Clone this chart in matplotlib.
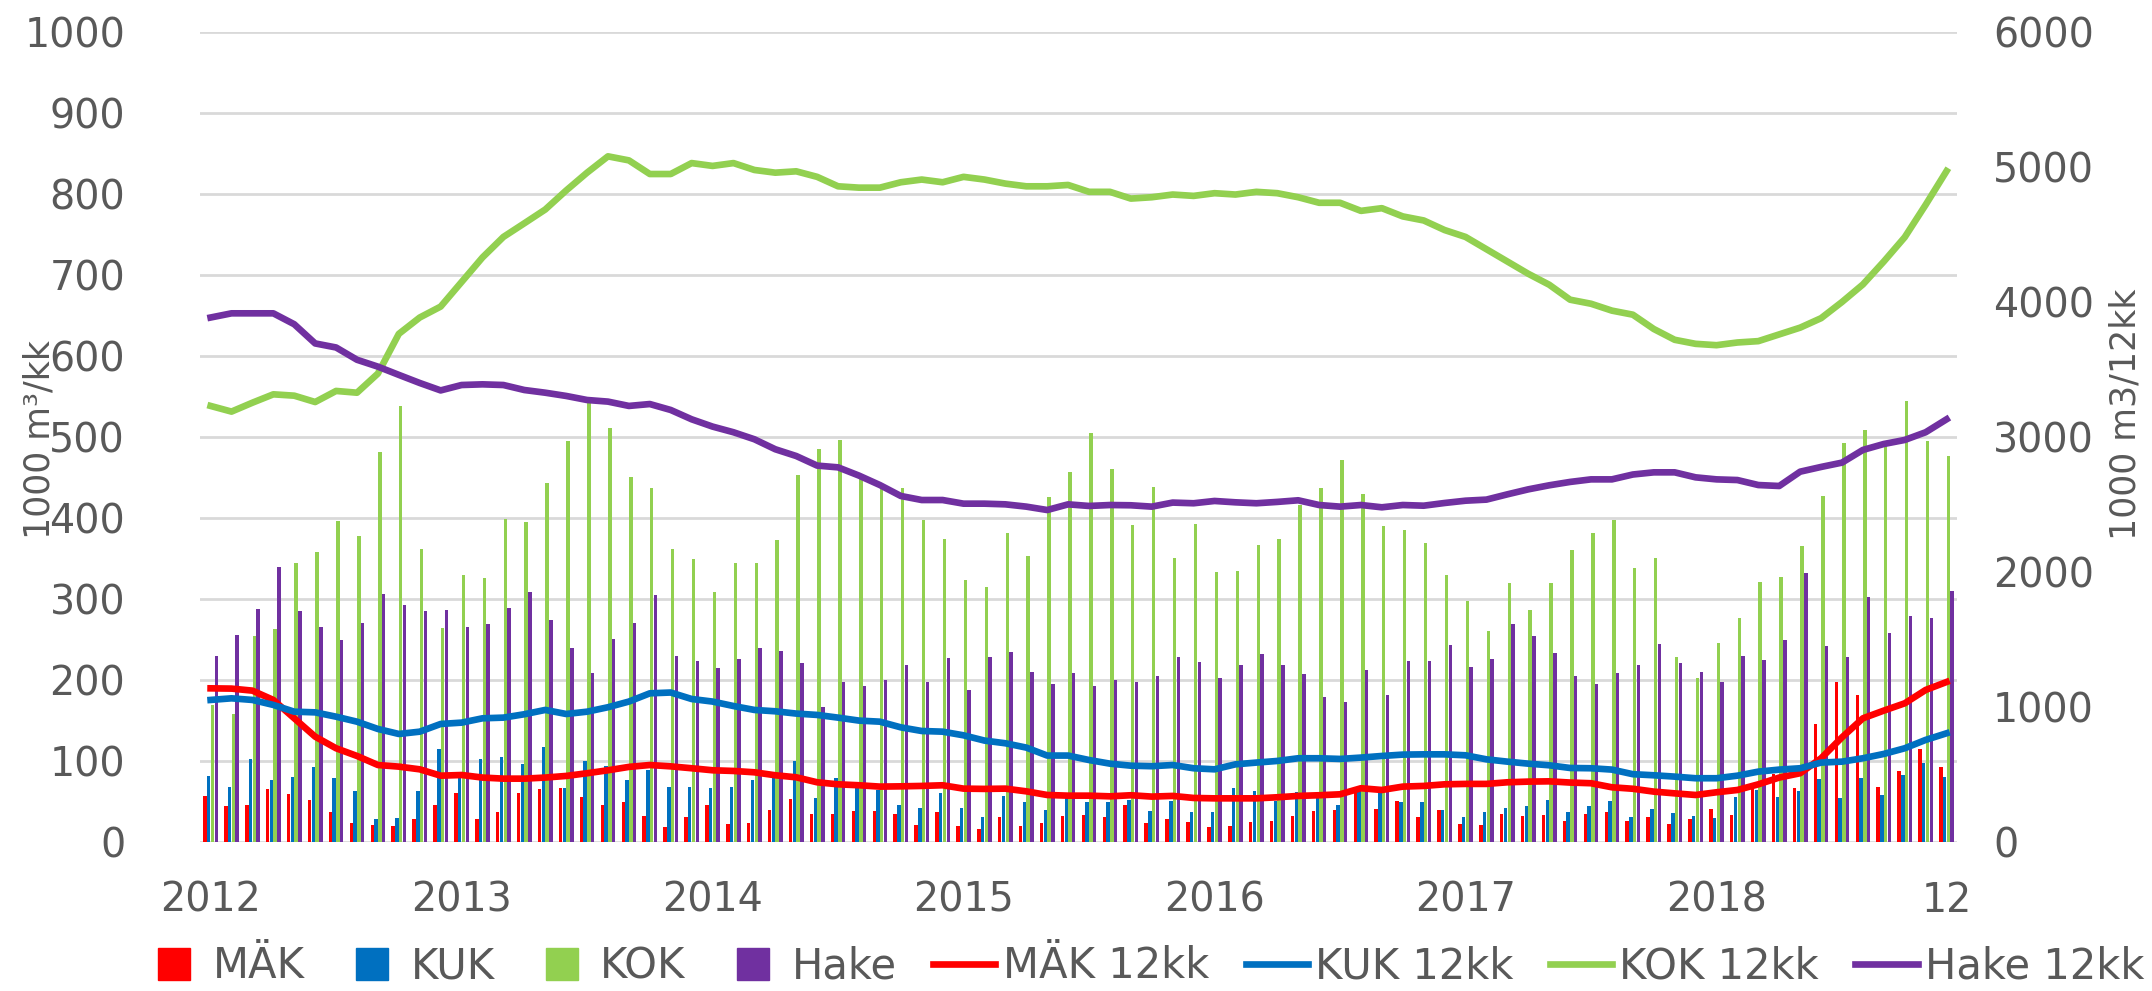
import matplotlib.pyplot as plt
import numpy as np
import pandas as pd
from matplotlib.lines import Line2D
from matplotlib.legend_handler import HandlerLine2D

# kuukaudet 2012-01 ... 2018-12
months = pd.date_range('2012-01', periods=84, freq='MS')
tick_pos = [0, 12, 24, 36, 48, 60, 72, 83]
tick_lab = ['2012', '2013', '2014', '2015', '2016', '2017', '2018', '12']

# kuukausiarvot, 1000 m3/kk (vasen akseli)
mak = [57, 44, 46, 65, 59, 52, 37, 24, 21, 20, 28, 46, 60, 28, 37, 61, 65, 67, 56, 46, 49, 32, 18,
       31, 46, 22, 24, 40, 53, 35, 35, 38, 38, 35, 21, 37, 20, 16, 31, 20, 23, 32, 33, 31, 46, 24,
       28, 25, 18, 20, 25, 26, 32, 38, 40, 68, 41, 51, 31, 40, 22, 21, 35, 32, 33, 26, 35, 37, 26,
       31, 22, 28, 41, 33, 72, 84, 67, 146, 198, 181, 68, 88, 115, 93]
kuk = [82, 68, 102, 76, 80, 93, 79, 63, 28, 30, 63, 115, 79, 102, 105, 96, 117, 66, 100, 94, 76, 89, 68,
       68, 66, 68, 77, 80, 100, 54, 79, 68, 64, 46, 42, 61, 42, 31, 57, 49, 40, 54, 49, 49, 52, 38,
       51, 37, 37, 67, 63, 51, 62, 54, 46, 66, 60, 49, 49, 40, 31, 37, 42, 44, 52, 37, 44, 51, 31,
       41, 36, 32, 29, 55, 64, 55, 63, 78, 54, 79, 58, 83, 97, 80]
kok = [169, 158, 254, 263, 344, 358, 396, 378, 481, 538, 362, 264, 329, 326, 399, 395, 443, 495, 545, 511, 450, 437, 362,
       349, 308, 344, 344, 373, 453, 485, 496, 450, 439, 437, 398, 374, 323, 315, 381, 353, 426, 457, 505, 460, 391, 438,
       351, 393, 333, 335, 367, 374, 416, 437, 472, 430, 390, 385, 369, 329, 297, 260, 320, 286, 320, 360, 381, 398, 338,
       351, 228, 202, 246, 276, 321, 327, 365, 427, 493, 509, 494, 544, 495, 477]
hake = [230, 256, 288, 340, 285, 265, 249, 270, 306, 292, 285, 286, 265, 269, 289, 308, 274, 239, 209, 250, 270, 305, 230,
        223, 215, 226, 239, 236, 221, 167, 198, 193, 200, 218, 197, 227, 188, 228, 235, 210, 195, 209, 193, 200, 198, 205,
        228, 222, 203, 218, 232, 218, 207, 179, 173, 212, 181, 223, 223, 243, 216, 226, 269, 254, 233, 205, 195, 209, 218,
        244, 221, 210, 197, 230, 225, 249, 332, 242, 228, 302, 258, 279, 276, 310]

# 12 kk liukuvat summat, 1000 m3/12kk (oikea akseli)
mak12 = [1138, 1136, 1121, 1052, 916, 780, 694, 637, 570, 558, 538, 491, 496, 477, 469, 469, 477, 489, 509, 531, 556, 570, 560,
         546, 531, 526, 516, 494, 479, 442, 427, 420, 410, 412, 415, 420, 395, 393, 395, 375, 348, 343, 343, 338, 346, 336,
         341, 326, 323, 323, 323, 331, 341, 346, 353, 398, 385, 410, 415, 427, 430, 430, 442, 447, 449, 440, 435, 405, 394,
         373, 360, 348, 368, 385, 427, 477, 509, 620, 775, 916, 973, 1027, 1126, 1185]
kuk12 = [1052, 1064, 1052, 1015, 965, 960, 928, 891, 837, 800, 817, 874, 884, 916, 921, 946, 978, 948, 965, 998, 1040, 1101, 1107,
         1059, 1040, 1007, 978, 968, 951, 941, 921, 899, 891, 849, 822, 817, 790, 751, 731, 699, 640, 640, 607, 580, 565, 561,
         570, 546, 538, 575, 588, 600, 620, 620, 615, 625, 637, 647, 649, 649, 642, 612, 595, 580, 568, 548, 546, 536, 502,
         494, 484, 472, 472, 491, 521, 536, 546, 588, 595, 620, 652, 694, 756, 805]
kok12 = [3230, 3188, 3254, 3316, 3306, 3259, 3341, 3328, 3470, 3764, 3885, 3966, 4148, 4330, 4482, 4583, 4685, 4826, 4958, 5079, 5049, 4948, 4948,
         5029, 5008, 5029, 4978, 4958, 4968, 4927, 4857, 4847, 4847, 4887, 4907, 4887, 4927, 4907, 4877, 4857, 4857, 4867, 4816, 4816, 4766, 4776,
         4796, 4786, 4806, 4796, 4816, 4806, 4776, 4735, 4735, 4675, 4695, 4634, 4604, 4533, 4482, 4391, 4300, 4209, 4128, 4017, 3987, 3936, 3906,
         3800, 3720, 3690, 3680, 3700, 3710, 3760, 3810, 3880, 4000, 4130, 4300, 4480, 4720, 4970]
hake12 = [3885, 3916, 3916, 3916, 3835, 3693, 3663, 3572, 3521, 3460, 3400, 3345, 3385, 3390, 3385, 3348, 3328, 3304, 3274, 3262, 3230, 3244, 3200,
          3131, 3077, 3035, 2983, 2909, 2859, 2788, 2775, 2714, 2644, 2563, 2533, 2533, 2506, 2506, 2501, 2484, 2459, 2501, 2489, 2496, 2494, 2484,
          2514, 2509, 2526, 2516, 2509, 2519, 2531, 2496, 2484, 2496, 2479, 2496, 2491, 2511, 2528, 2536, 2575, 2612, 2642, 2667, 2686, 2686, 2722,
          2738, 2738, 2701, 2686, 2681, 2644, 2637, 2743, 2778, 2810, 2904, 2948, 2978, 3035, 3131]

punainen = '#FF0000'
sininen = '#0070C0'
vihrea = '#92D050'
violetti = '#7030A0'
harmaa = '#595959'


# neliö legendan kahvan oikeaan reunaan, kuten Excelissä
class OikeaNelio(HandlerLine2D):
    def get_xdata(self, legend, xdescent, ydescent, width, height, fontsize):
        xdata, _ = super().get_xdata(legend, xdescent, ydescent, width, height, fontsize)
        return xdata, np.array([-xdescent + 0.74 * width])


fig = plt.figure(figsize=(21.52, 9.91), dpi=100)
ax = fig.add_axes([0.093, 0.1504, 0.8164, 0.8173])
x = np.arange(len(months))

w = 0.165
step = 0.18
ax.bar(x - 1.5 * step, mak, w, color=punainen)
ax.bar(x - 0.5 * step, kuk, w, color=sininen)
ax.bar(x + 0.5 * step, kok, w, color=vihrea)
ax.bar(x + 1.5 * step, hake, w, color=violetti)

ax.set_xlim(-0.5, 83.5)
ax.set_ylim(0, 1000)
ax.set_yticks(range(0, 1001, 100))
ax.set_xticks(tick_pos)
ax.set_xticklabels(tick_lab)
ax.yaxis.grid(True, color='#D9D9D9', linewidth=2)
ax.set_axisbelow(True)
for s in ax.spines.values():
    s.set_visible(False)
ax.tick_params(axis='y', length=0, labelsize=28.5, labelcolor=harmaa, pad=54)
ax.tick_params(axis='x', length=0, labelsize=28.5, labelcolor=harmaa, pad=28)

ax2 = ax.twinx()
ax2.plot(x, mak12, color=punainen, linewidth=4.8)
ax2.plot(x, kuk12, color=sininen, linewidth=4.8)
ax2.plot(x, kok12, color=vihrea, linewidth=4.8)
ax2.plot(x, hake12, color=violetti, linewidth=4.8)
ax2.set_ylim(0, 6000)
ax2.set_yticks(range(0, 6001, 1000))
for s in ax2.spines.values():
    s.set_visible(False)
ax2.tick_params(axis='y', length=0, labelsize=28.5, labelcolor=harmaa, pad=26)

fig.text(0.0185, 0.557, '1000 m³/kk', rotation=90, va='center', ha='center',
         fontsize=25, color=harmaa)
fig.text(0.9875, 0.582, '1000 m3/12kk', rotation=90, va='center', ha='center',
         fontsize=25, color=harmaa)

nelio = dict(marker='s', linestyle='none', markersize=23)
handles = [
    Line2D([], [], color=punainen, **nelio),
    Line2D([], [], color=sininen, **nelio),
    Line2D([], [], color=vihrea, **nelio),
    Line2D([], [], color=violetti, **nelio),
    Line2D([], [], color=punainen, linewidth=4.8),
    Line2D([], [], color=sininen, linewidth=4.8),
    Line2D([], [], color=vihrea, linewidth=4.8),
    Line2D([], [], color=violetti, linewidth=4.8),
]
labels = ['MÄK', 'KUK', 'KOK', 'Hake', 'MÄK 12kk', 'KUK 12kk', 'KOK 12kk', 'Hake 12kk']
hmap = {h: OikeaNelio(numpoints=1) for h in handles[:4]}
leg = fig.legend(handles, labels, loc='center', bbox_to_anchor=(0.5315, 0.025), ncol=8,
                 frameon=False, fontsize=30, handlelength=1.49, handletextpad=0.17,
                 columnspacing=0.88, borderpad=0, handler_map=hmap)
for t in leg.get_texts():
    t.set_color(harmaa)

fig.savefig('out.png', dpi=100)
